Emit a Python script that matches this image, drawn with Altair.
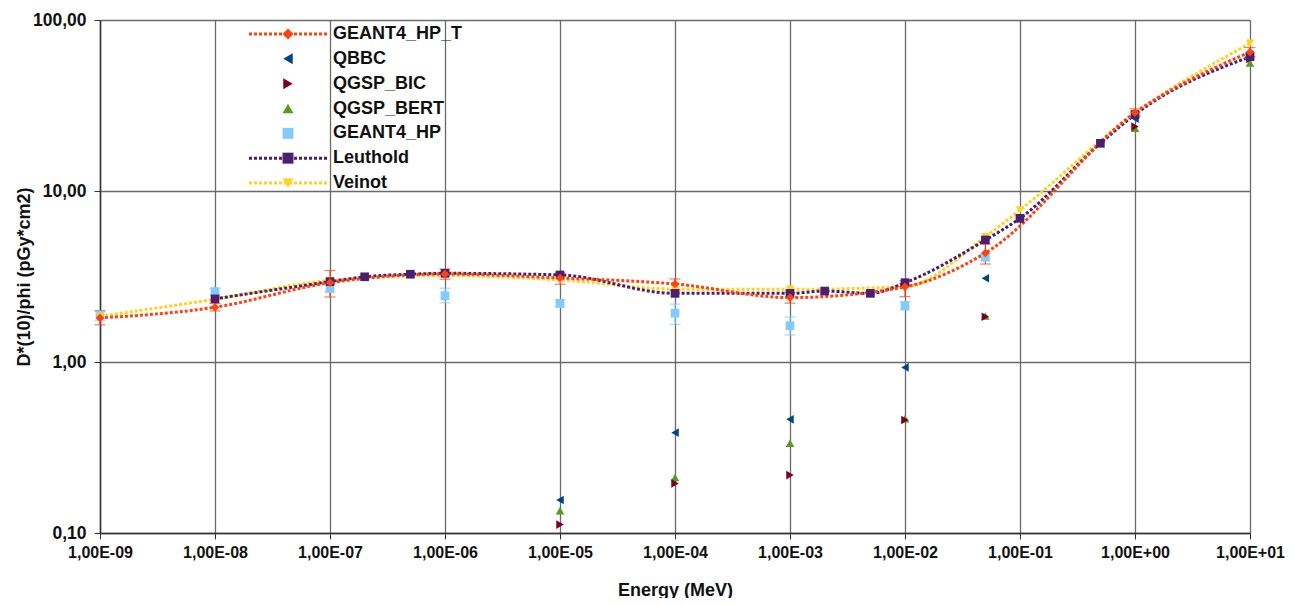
import altair as alt
import pandas as pd

# ---------------- data ----------------
series_names = ["GEANT4_HP_T", "QBBC", "QGSP_BIC", "QGSP_BERT", "GEANT4_HP", "Leuthold", "Veinot"]
series_colors = ["#ff420e", "#004586", "#7e0021", "#579d1c", "#83caff", "#4b1f6f", "#ffd320"]
series_shapes = ["diamond", "triangle-left", "triangle-right", "triangle-up", "square", "square", "triangle-down"]
line_series = ["GEANT4_HP_T", "Leuthold", "Veinot"]

hp_t_E = [1e-9, 1e-8, 1e-7, 1e-6, 1e-5, 1e-4, 1e-3, 1e-2, 5e-2, 1e0, 1e1]
hp_t_D = [1.81, 2.09, 2.91, 3.27, 3.10, 2.86, 2.38, 2.75, 4.34, 28.7, 65.0]
hp_t_lo = [1.65, 1.99, 2.40, 3.05, 2.85, 2.62, 2.21, 2.41, 3.74, 27.3, 61.0]
hp_t_hi = [1.99, 2.20, 3.43, 3.50, 3.32, 3.06, 2.55, 2.99, 4.90, 30.2, 69.0]

qbbc_E = [1e-5, 1e-4, 1e-3, 1e-2, 5e-2, 1e0, 1e1]
qbbc_D = [0.156, 0.386, 0.462, 0.93, 3.09, 26.5, 62.6]

bic_E = [1e-5, 1e-4, 1e-3, 1e-2, 5e-2, 1e0, 1e1]
bic_D = [0.112, 0.195, 0.218, 0.458, 1.84, 23.8, 59.3]

bert_E = [1e-5, 1e-4, 1e-3, 1e-2, 5e-2, 1e0, 1e1]
bert_D = [0.135, 0.211, 0.335, 0.465, 1.86, 23.3, 56.0]

hp_E = [1e-9, 1e-8, 1e-7, 1e-6, 1e-5, 1e-4, 1e-3, 1e-2, 5e-2, 1e0, 1e1]
hp_D = [1.88, 2.58, 2.70, 2.44, 2.20, 1.93, 1.63, 2.13, 4.10, 28.0, 62.0]
hp_lo = [1.75, 2.48, 2.55, 2.22, 2.10, 1.66, 1.44, 2.02, 3.92, 27.0, 60.0]
hp_hi = [2.00, 2.70, 2.85, 2.70, 2.32, 2.18, 1.83, 2.25, 4.30, 29.0, 64.0]

leut_E = [1e-8, 1e-7, 2e-7, 5e-7, 1e-6, 1e-5, 1e-4, 1e-3, 2e-3, 5e-3, 1e-2, 5e-2, 1e-1, 5e-1, 1e0, 1e1]
leut_D = [2.34, 2.95, 3.15, 3.26, 3.30, 3.23, 2.52, 2.52, 2.60, 2.52, 2.91, 5.17, 6.92, 19.0, 28.0, 61.0]

vein_E = [1e-9, 1e-8, 1e-7, 1e-6, 1e-5, 1e-4, 1e-3, 1e-2, 5e-2, 1e-1, 1e0, 1e1]
vein_D = [1.85, 2.33, 3.00, 3.20, 3.02, 2.67, 2.66, 2.76, 5.40, 7.74, 28.5, 73.0]

x_tick_values = [1e-9, 1e-8, 1e-7, 1e-6, 1e-5, 1e-4, 1e-3, 1e-2, 1e-1, 1e0, 1e1]
x_tick_labels = ["1,00E-09", "1,00E-08", "1,00E-07", "1,00E-06", "1,00E-05", "1,00E-04",
                 "1,00E-03", "1,00E-02", "1,00E-01", "1,00E+00", "1,00E+01"]
y_tick_values = [0.1, 1, 10, 100]
y_tick_labels = ["0,10", "1,00", "10,00", "100,00"]

x_title = "Energy (MeV)"
y_title = "D*(10)/phi (pGy*cm2)"

# ---------------- tables ----------------
def frame(name, E, D):
    return pd.DataFrame({"series": name, "E": E, "D": D})

lines_df = pd.concat([frame("Veinot", vein_E, vein_D),
                      frame("Leuthold", leut_E, leut_D),
                      frame("GEANT4_HP_T", hp_t_E, hp_t_D)], ignore_index=True)

points_df = pd.concat([frame("GEANT4_HP", hp_E, hp_D),
                       frame("QGSP_BERT", bert_E, bert_D),
                       frame("QGSP_BIC", bic_E, bic_D),
                       frame("QBBC", qbbc_E, qbbc_D),
                       frame("Veinot", vein_E, vein_D),
                       frame("Leuthold", leut_E, leut_D),
                       frame("GEANT4_HP_T", hp_t_E, hp_t_D)], ignore_index=True)
points_df["z"] = range(len(points_df))

err_df = pd.concat([pd.DataFrame({"series": "GEANT4_HP", "E": hp_E, "lo": hp_lo, "hi": hp_hi}),
                    pd.DataFrame({"series": "GEANT4_HP_T", "E": hp_t_E, "lo": hp_t_lo, "hi": hp_t_hi})],
                   ignore_index=True)

legend_df = pd.DataFrame({"series": series_names, "row": list(range(len(series_names))),
                          "has_line": [s in line_series for s in series_names]})


def label_expr(values, labels):
    parts = [f"datum.value < {v * 3:.3g} ? '{l}' : " for v, l in zip(values[:-1], labels[:-1])]
    return "".join(parts) + f"'{labels[-1]}'"


color_scale = alt.Scale(domain=series_names, range=series_colors)
shape_scale = alt.Scale(domain=series_names, range=series_shapes)

FONT = "Liberation Sans"

x_enc = alt.X("E:Q", scale=alt.Scale(type="log", domain=[1e-9, 10], nice=False),
              axis=alt.Axis(values=x_tick_values, labelExpr=label_expr(x_tick_values, x_tick_labels),
                            title=x_title, grid=True, gridColor="#6a6a6a", gridWidth=1.3,
                            domainColor="#333333", domainWidth=1.5, tickColor="#333333",
                            tickSize=6, labelPadding=5, labelFontSize=16, labelFontWeight="bold",
                            labelFont=FONT, labelColor="#111111", labelFlush=False,
                            titleFontSize=18, titleFontWeight="bold", titleFont=FONT,
                            titleColor="#111111", titleY=62, titleBaseline="alphabetic"))
y_scale = alt.Scale(type="log", domain=[0.1, 100], nice=False)
y_enc = alt.Y("D:Q", scale=y_scale,
              axis=alt.Axis(values=y_tick_values, labelExpr=label_expr(y_tick_values, y_tick_labels),
                            title=y_title, grid=True, gridColor="#6a6a6a", gridWidth=1.3,
                            domainColor="#333333", domainWidth=1.5, tickColor="#333333",
                            tickSize=6, labelPadding=8, labelFontSize=17.5, labelFontWeight="bold",
                            labelFont=FONT, labelColor="#111111", labelFlush=False,
                            titleFontSize=18, titleFontWeight="bold", titleFont=FONT,
                            titleColor="#111111", titleX=-76, titleY=256.5,
                            titleBaseline="middle", titleAngle=-90))

lines = alt.Chart(lines_df).mark_line(strokeDash=[3, 2], strokeWidth=3, interpolate="monotone").encode(
    x=x_enc, y=y_enc,
    color=alt.Color("series:N", scale=color_scale, legend=None),
    detail="series:N",
)

err_base = alt.Chart(err_df).encode(
    x=alt.X("E:Q"),
    color=alt.Color("series:N", scale=color_scale, legend=None),
)
err_rule = err_base.mark_rule(strokeWidth=1.2).encode(y=alt.Y("lo:Q", scale=y_scale), y2="hi:Q")
err_cap_lo = err_base.mark_tick(orient="horizontal", size=11, thickness=1.2).encode(y=alt.Y("lo:Q", scale=y_scale))
err_cap_hi = err_base.mark_tick(orient="horizontal", size=11, thickness=1.2).encode(y=alt.Y("hi:Q", scale=y_scale))

points = alt.Chart(points_df).mark_point(filled=True, opacity=1, size=75).encode(
    x=alt.X("E:Q"), y=alt.Y("D:Q", scale=y_scale),
    color=alt.Color("series:N", scale=color_scale, legend=None),
    shape=alt.Shape("series:N", scale=shape_scale, legend=None),
    order="z:Q",
)

main = alt.layer(lines, err_rule, err_cap_lo, err_cap_hi, points)

# ---------------- legend (inside the plot, top left) ----------------
leg_y = alt.Y("row:Q", scale=alt.Scale(domain=[0, 6], range=[14, 163]), axis=None)
leg_base = alt.Chart(legend_df)
leg_lines = leg_base.transform_filter("datum.has_line").mark_rule(strokeDash=[3, 2], strokeWidth=3).encode(
    x=alt.value(149), x2=alt.value(227), y=leg_y,
    color=alt.Color("series:N", scale=color_scale, legend=None),
)
leg_pts = leg_base.mark_point(filled=True, opacity=1, size=120).encode(
    x=alt.value(188), y=leg_y,
    color=alt.Color("series:N", scale=color_scale, legend=None),
    shape=alt.Shape("series:N", scale=shape_scale, legend=None),
)
leg_text = leg_base.mark_text(align="left", baseline="middle", fontSize=18, fontWeight="bold",
                              font=FONT, color="#111111").encode(
    x=alt.value(233), y=leg_y, text="series:N",
)
legend = alt.layer(leg_lines, leg_pts, leg_text)

chart = alt.layer(main, legend).resolve_scale(y="independent").properties(
    width=1150, height=513,
    autosize=alt.AutoSizeParams(type="none"),
    padding={"left": 92, "top": 12, "right": 36, "bottom": 65},
).configure_view(stroke=None).configure(background="white")

chart.save("out.html", embed_options={"renderer": "svg", "actions": False})
